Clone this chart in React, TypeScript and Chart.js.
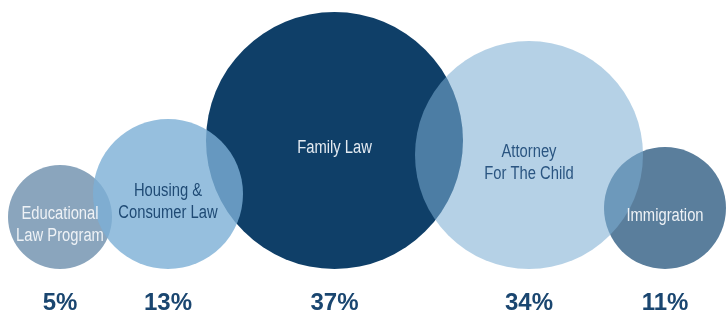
import React, { useEffect, useRef } from "react";
import { Chart, registerables } from "chart.js";

Chart.register(...registerables);

// Data
const categories = ["Educational\nLaw Program", "Housing &\nConsumer Law", "Family Law", "Attorney\nFor The Child", "Immigration"];
const percents = [5, 13, 37, 34, 11];
const centers = [60, 168, 334.5, 529, 665];
const radii = [52, 75, 128.5, 114, 61];
const drawOrder = [0, 2, 4, 1, 3];

// Styles
const fills = ["#8aa5bd", "rgba(124,175,214,0.8)", "#0f3f68", "rgba(124,174,211,0.565)", "#5a7e9c"];
const textColors = ["#eef2f6", "#1f4a74", "#e3eaf1", "#2a5581", "#eef2f6"];
const W = 726;
const H = 313;
const BASE = 44;

export default function App() {
  const ref = useRef<HTMLCanvasElement | null>(null);
  useEffect(() => {
    document.body.style.margin = "0";
    const canvas = ref.current;
    if (!canvas) return;
    const points = drawOrder.map((i) => ({ x: centers[i], y: BASE + radii[i], r: radii[i] }));
    const colors = drawOrder.map((i) => fills[i]);
    const labelPlugin = {
      id: "labels",
      afterDatasetsDraw(chart: any) {
        const ctx = chart.ctx;
        const xs = chart.scales.x;
        const ys = chart.scales.y;
        ctx.save();
        ctx.textAlign = "center";
        categories.forEach((cat, i) => {
          const px = xs.getPixelForValue(centers[i]);
          const py = ys.getPixelForValue(BASE + radii[i]);
          const lines = cat.split("\n");
          ctx.font = "18px 'Liberation Sans', Arial, sans-serif";
          ctx.fillStyle = textColors[i];
          ctx.textBaseline = "middle";
          const lh = 22;
          const start = py + 8 - ((lines.length - 1) * lh) / 2;
          lines.forEach((l, k) => {
            ctx.save();
            ctx.translate(px, start + k * lh);
            ctx.scale(0.82, 1);
            ctx.fillText(l, 0, 0);
            ctx.restore();
          });
          ctx.font = "bold 24px 'Liberation Sans', Arial, sans-serif";
          ctx.fillStyle = "#1a4670";
          ctx.textBaseline = "alphabetic";
          ctx.fillText(percents[i] + "%", px, ys.getPixelForValue(BASE) + 41);
        });
        ctx.restore();
      },
    };
    const chart = new Chart(canvas, {
      type: "bubble",
      data: {
        datasets: [
          {
            data: points,
            backgroundColor: colors,
            hoverBackgroundColor: colors,
            borderWidth: 0,
            hoverBorderWidth: 0,
            hoverRadius: 0,
            clip: false as any,
          },
        ],
      },
      options: {
        responsive: false,
        animation: false,
        events: [],
        layout: { padding: 0, autoPadding: false },
        plugins: { legend: { display: false }, tooltip: { enabled: false } },
        scales: {
          x: { type: "linear", min: 0, max: W, display: false },
          y: { type: "linear", min: 0, max: H, display: false },
        },
      },
      plugins: [labelPlugin],
    });
    return () => chart.destroy();
  }, []);
  return (
    <div style={{ width: W, height: H, background: "#fff" }}>
      <canvas ref={ref} width={W} height={H} style={{ display: "block" }} />
    </div>
  );
}
